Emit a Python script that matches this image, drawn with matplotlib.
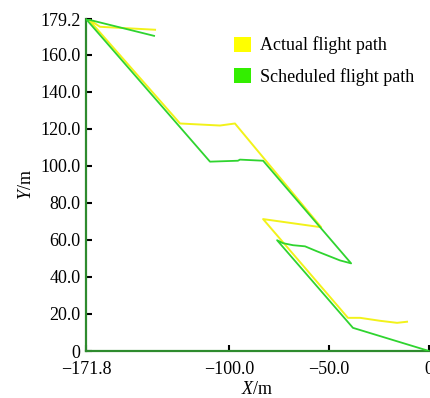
import matplotlib
matplotlib.use("Agg")
import matplotlib.pyplot as plt
from matplotlib.patches import Patch

# Scheduled (planned) flight path
sched_x = [-137.7, -171.8, -109.7, -95.7, -94.7, -83.1, -39.0, -44.6, -56.1, -62.1, -68.1, -73.1, -76.1, -38.1, 0.0]
sched_y = [170.1, 179.2, 102.2, 102.7, 103.3, 102.7, 47.3, 48.9, 53.8, 56.5, 57.1, 58.2, 59.8, 12.5, 0.0]

# Actual flight path
act_x = [-137.2, -164.8, -170.8, -124.7, -104.7, -97.2, -54.0, -83.1, -40.6, -34.5, -24.5, -16.0, -11.0]
act_y = [173.4, 175.0, 179.3, 122.8, 121.7, 122.8, 66.8, 71.2, 17.9, 17.9, 16.3, 15.2, 15.8]

x_ticks = [-171.8, -100.0, -50.0, 0.0]
x_labels = ["\u2212171.8", "\u2212100.0", "\u221250.0", "0"]
y_ticks = [0, 20, 40, 60, 80, 100, 120, 140, 160, 179.2]
y_labels = ["0", "20.0", "40.0", "60.0", "80.0", "100.0", "120.0", "140.0", "160.0", "179.2"]

plt.rcParams['font.family'] = ['Liberation Serif', 'DejaVu Serif']
plt.rcParams['mathtext.fontset'] = 'custom'
plt.rcParams['mathtext.it'] = 'Liberation Serif:italic'
plt.rcParams['mathtext.rm'] = 'Liberation Serif'

fig = plt.figure(figsize=(4.30, 3.98), dpi=100)
ax = fig.add_axes([86/430, 1 - 351/398, (429 - 86)/430, (351 - 19)/398])

yellow = '#f2f21a'
green = '#2fd42f'
ax.plot(act_x, act_y, color=yellow, lw=1.4, zorder=2)
ax.plot(sched_x, sched_y, color=green, lw=1.3, zorder=3)

ax.set_xlim(-171.8, 0)
ax.set_ylim(0, 179.2)
ax.set_xticks(x_ticks)
ax.set_xticklabels(x_labels)
ax.set_yticks(y_ticks)
ax.set_yticklabels(y_labels)
ax.tick_params(direction='in', length=4, width=1.5, color='black', labelsize=13)
ax.tick_params(axis='y', pad=4)
ax.tick_params(axis='x', pad=7)

for s in ['top', 'right']:
    ax.spines[s].set_visible(False)
for s in ['left', 'bottom']:
    ax.spines[s].set_color('#2e8b2e')
    ax.spines[s].set_linewidth(1.6)

ax.set_xlabel('$X$/m', fontsize=13, labelpad=2)
ax.set_ylabel('$Y$/m', fontsize=13, labelpad=4)

handles = [Patch(facecolor='#ffff00', edgecolor='none', label='Actual flight path'),
           Patch(facecolor='#33ee00', edgecolor='none', label='Scheduled flight path')]
ax.legend(handles=handles, loc='upper left', bbox_to_anchor=(0.40, 0.98), frameon=False,
          fontsize=13, handlelength=0.95, handleheight=0.9, handletextpad=0.5, labelspacing=0.75,
          borderaxespad=0.2)

fig.savefig('out.png', dpi=100)
